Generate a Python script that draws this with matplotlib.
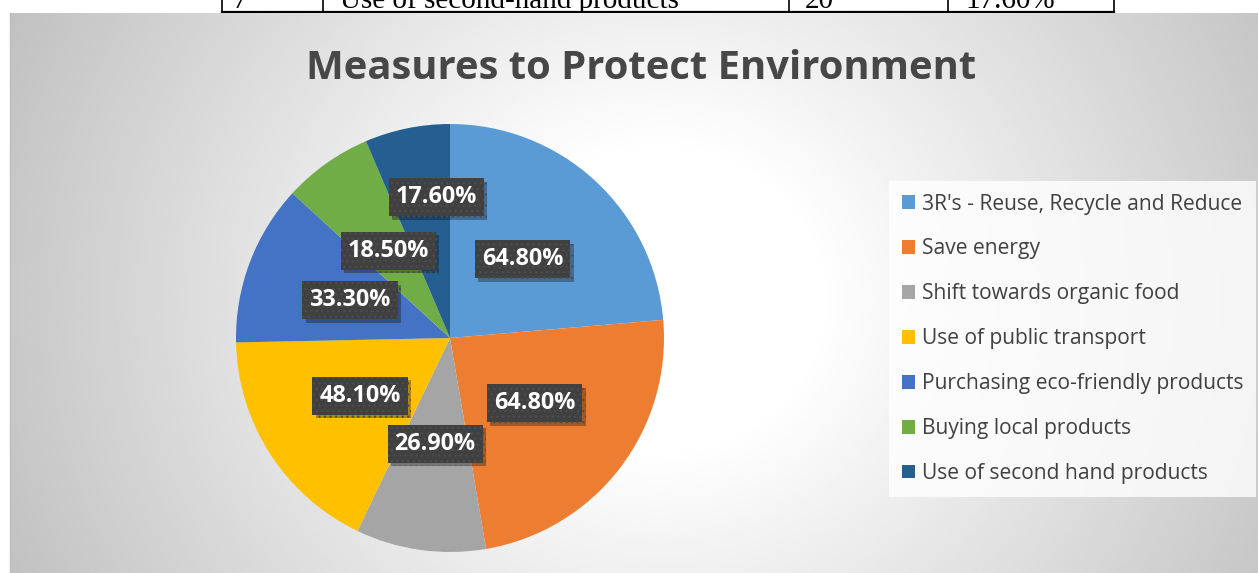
import numpy as np
import matplotlib
matplotlib.use('Agg')
import matplotlib.pyplot as plt
import matplotlib.patheffects as pe

# survey results: share of respondents per measure (%)
measures = ["3R's - Reuse, Recycle and Reduce", 'Save energy', 'Shift towards organic food',
            'Use of public transport', 'Purchasing eco-friendly products',
            'Buying local products', 'Use of second hand products']
percent = [64.8, 64.8, 26.9, 48.1, 33.3, 18.5, 17.6]
colors = ['#5B9BD5', '#ED7D31', '#A5A5A5', '#FFC000', '#4472C4', '#70AD47', '#255E91']

# last row of the table above the chart
table_row = ['7', 'Use of second-hand products', '20', '17.60%']

W, H = 1258, 573
plt.rcParams['hatch.linewidth'] = 0.9

fig = plt.figure(figsize=(W / 100, H / 100), dpi=100)
fig.patch.set_facecolor('white')
ax = fig.add_axes([0, 0, 1, 1])


def Y(y):
    # image rows run top-down, axes run bottom-up
    return H - y


# table row, cut off by the top of the page
for x, s in zip([232, 340, 805, 965], table_row):
    ax.text(x, Y(7.5), s, fontsize=21, family='Liberation Serif', color='black',
            va='baseline', ha='left', zorder=0)
ax.plot([222, 1114], [Y(12), Y(12)], color='black', lw=1.6, zorder=1)
for x in [222, 323, 789, 948, 1114]:
    ax.plot([x, x], [Y(12), H + 2], color='black', lw=1.2, zorder=1)

# chart area with radial grey gradient
x0, x1, y0, y1 = 10, W, 13, H
gx, gy = np.meshgrid(np.linspace(x0, x1, 400), np.linspace(y0, y1, 200))
d = np.sqrt(((gx - 660) / 640) ** 2 + ((gy - 300) / 600) ** 2)
shade = np.clip(1.07 - 0.28 * d, 0, 1)
ax.imshow(shade, cmap='gray', vmin=0, vmax=1, extent=(x0, x1, Y(y1), Y(y0)),
          origin='upper', interpolation='bilinear', aspect='auto', zorder=2)
ax.plot([x0, x0], [Y(y1), Y(y0)], color='#bdbdbd', lw=1, zorder=2.5)

total = sum(percent)
wedges, _, autotexts = ax.pie(
    percent, colors=colors, startangle=90, counterclock=False,
    center=(450, Y(338)), radius=214, pctdistance=0.5,
    autopct=lambda p: f'{p * total / 100:.2f}%',
    wedgeprops=dict(linewidth=0, zorder=3),
    textprops=dict(color='white', fontsize=16.8, fontweight='bold', family='Open Sans'))

for w, t in zip(wedges, autotexts):
    w.set_zorder(3)
    t.set_zorder(5)
    t.set_bbox(dict(boxstyle='square,pad=0.3', facecolor='#404040',
                    edgecolor='#4d4d4d', linewidth=0, hatch='...'))
    t.get_bbox_patch().set_path_effects([
        pe.withSimplePatchShadow(offset=(2.5, -2.5), shadow_rgbFace='black', alpha=0.3),
        pe.Normal()])

# the smallest slice's label sits further out
w = wedges[-1]
ang = np.deg2rad((w.theta1 + w.theta2) / 2 - 6)
cx, cy = w.center
autotexts[-1].set_position((cx + 0.66 * w.r * np.cos(ang), cy + 0.66 * w.r * np.sin(ang)))

ax.text(641, Y(79), 'Measures to Protect Environment', ha='center', va='baseline',
        fontsize=28.8, fontweight='bold', family='Open Sans', color='#474747', zorder=5)

leg = ax.legend(wedges, measures, loc='upper left', bbox_to_anchor=(889, Y(181)),
                bbox_transform=ax.transData, frameon=True, fancybox=False,
                prop=dict(family='Open Sans', size=15.1), labelcolor='#404040',
                handlelength=0.62, handleheight=0.62, handletextpad=0.35,
                labelspacing=1.14, borderpad=0.6, borderaxespad=0)
leg.get_frame().set_facecolor((1, 1, 1, 0.4))
leg.get_frame().set_linewidth(0)
leg.set_zorder(5)

ax.set_xlim(0, W)
ax.set_ylim(0, H)
ax.set_aspect('equal')
ax.axis('off')

fig.savefig('out.png', dpi=100, facecolor='white')
